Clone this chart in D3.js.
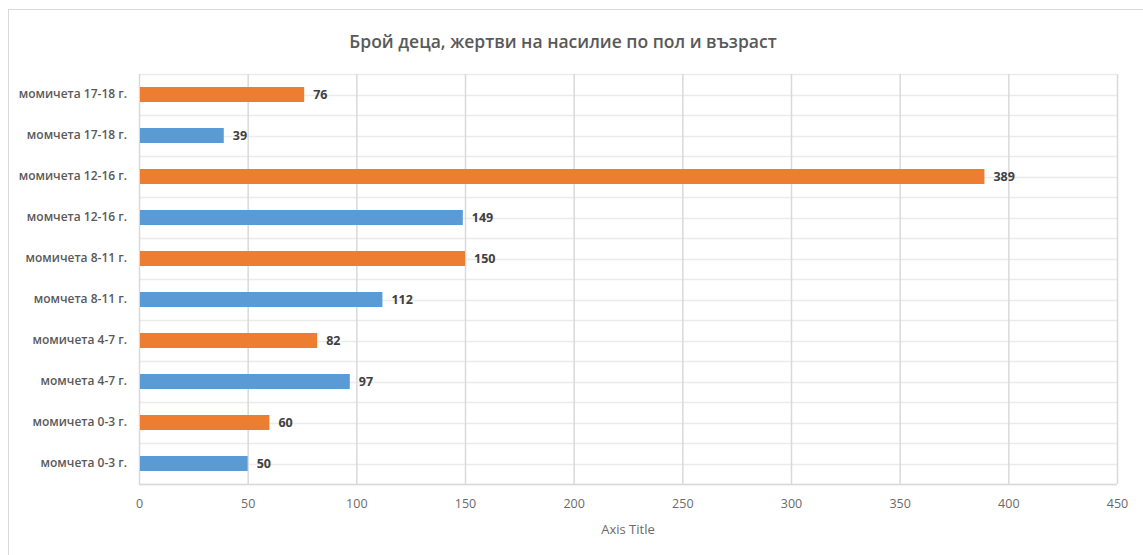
<!DOCTYPE html>
<html>
<head>
<meta charset="utf-8">
<script src="https://cdn.jsdelivr.net/npm/d3@7"></script>
<style>
  body { margin: 0; background: #fff; }
  text { font-family: "Open Sans", "Noto Sans", sans-serif; }
</style>
</head>
<body>
<div id="chart"></div>
<script>
(function() {
	// categories from bottom to top, as in the picture
	var categories = [
		"момчета 0-3 г.", "момичета 0-3 г.",
		"момчета 4-7 г.", "момичета 4-7 г.",
		"момчета 8-11 г.", "момичета 8-11 г.",
		"момчета 12-16 г.", "момичета 12-16 г.",
		"момчета 17-18 г.", "момичета 17-18 г."
	];
	var values = [50, 60, 97, 82, 112, 150, 149, 389, 39, 76];
	var groups = ["boys", "girls", "boys", "girls", "boys", "girls", "boys", "girls", "boys", "girls"];
	var xTicks = [0, 50, 100, 150, 200, 250, 300, 350, 400, 450];

	var width = 1143, height = 555;
	var margin = { top: 74, left: 139, right: 26, bottom: 71 };
	var plotW = width - margin.left - margin.right,
		plotH = height - margin.top - margin.bottom;

	var svg = d3.select("#chart")
				.append("svg")
				.attr("width", width)
				.attr("height", height);

	// chart frame
	svg.append("rect")
		.attr("x", 8.5).attr("y", 9.5)
		.attr("width", width).attr("height", height)
		.attr("fill", "#fff")
		.attr("stroke", "#d9d9d9");

	svg.append("text")
		.attr("x", 563).attr("y", 48)
		.attr("text-anchor", "middle")
		.attr("font-size", 17.5)
		.attr("font-weight", 600)
		.attr("fill", "#595959")
		.text("Брой деца, жертви на насилие по пол и възраст");

	var g = svg.append("g")
		.attr("transform", "translate(" + margin.left + "," + margin.top + ")");

	var xScale = d3.scaleLinear()
		.domain([0, 450])
		.range([0, plotW]);

	var yScale = d3.scaleBand()
		.domain(categories.slice().reverse())
		.range([0, plotH]);

	var colorScale = d3.scaleOrdinal()
		.domain(["boys", "girls"])
		.range(["#5b9bd5", "#ed7d31"]);

	// horizontal gridlines at every half row
	var hLines = d3.range(0, categories.length * 2 + 1);
	g.selectAll(".hgrid")
		.data(hLines)
		.enter()
		.append("line")
		.attr("x1", 0).attr("x2", plotW)
		.attr("y1", function(d) { return Math.round(d * yScale.step() / 2) + 0.5; })
		.attr("y2", function(d) { return Math.round(d * yScale.step() / 2) + 0.5; })
		.attr("stroke", "#ebebeb")
		.attr("stroke-width", 1.3);

	// vertical gridlines + tick labels
	var xAxis = d3.axisBottom(xScale)
		.tickValues(xTicks)
		.tickSize(plotH)
		.tickPadding(15);

	var ax = g.append("g").call(xAxis);
	ax.select(".domain").remove();
	ax.selectAll(".tick line")
		.attr("stroke", "#d9d9d9")
		.attr("stroke-width", 1.5);
	ax.selectAll(".tick text")
		.attr("font-size", 12.5)
		.attr("fill", "#6a6a6a")
		.style("font-family", "'Open Sans', sans-serif");

	g.append("line")
		.attr("x1", 0).attr("x2", plotW)
		.attr("y1", plotH + 0.5).attr("y2", plotH + 0.5)
		.attr("stroke", "#d9d9d9")
		.attr("stroke-width", 1.5);

	// category labels
	var yAxis = d3.axisLeft(yScale).tickSize(0).tickPadding(12);
	var ay = g.append("g").call(yAxis);
	ay.select(".domain").remove();
	ay.selectAll(".tick text")
		.attr("font-size", 12)
		.attr("font-weight", 600)
		.attr("fill", "#595959")
		.style("font-family", "'Open Sans', sans-serif");

	var data = categories.map(function(c, i) {
		return { cat: c, value: values[i], group: groups[i] };
	});

	var barH = 15;

	g.selectAll(".bar")
		.data(data)
		.enter()
		.append("rect")
		.attr("x", xScale(0) + 1)
		.attr("y", function(d) { return yScale(d.cat) + yScale.bandwidth() / 2 - barH / 2; })
		.attr("width", function(d) { return xScale(d.value) - xScale(0) - 1; })
		.attr("height", barH)
		.attr("fill", function(d) { return colorScale(d.group); });

	g.selectAll(".val")
		.data(data)
		.enter()
		.append("text")
		.attr("x", function(d) { return xScale(d.value) + 9; })
		.attr("y", function(d) { return yScale(d.cat) + yScale.bandwidth() / 2; })
		.attr("dy", "0.36em")
		.attr("font-size", 12.5)
		.attr("font-weight", 700)
		.attr("fill", "#404040")
		.text(function(d) { return d.value; });

	svg.append("text")
		.attr("x", margin.left + plotW / 2)
		.attr("y", 534)
		.attr("text-anchor", "middle")
		.attr("font-size", 13)
		.attr("fill", "#6a6a6a")
		.text("Axis Title");
})();
</script>
</body>
</html>
